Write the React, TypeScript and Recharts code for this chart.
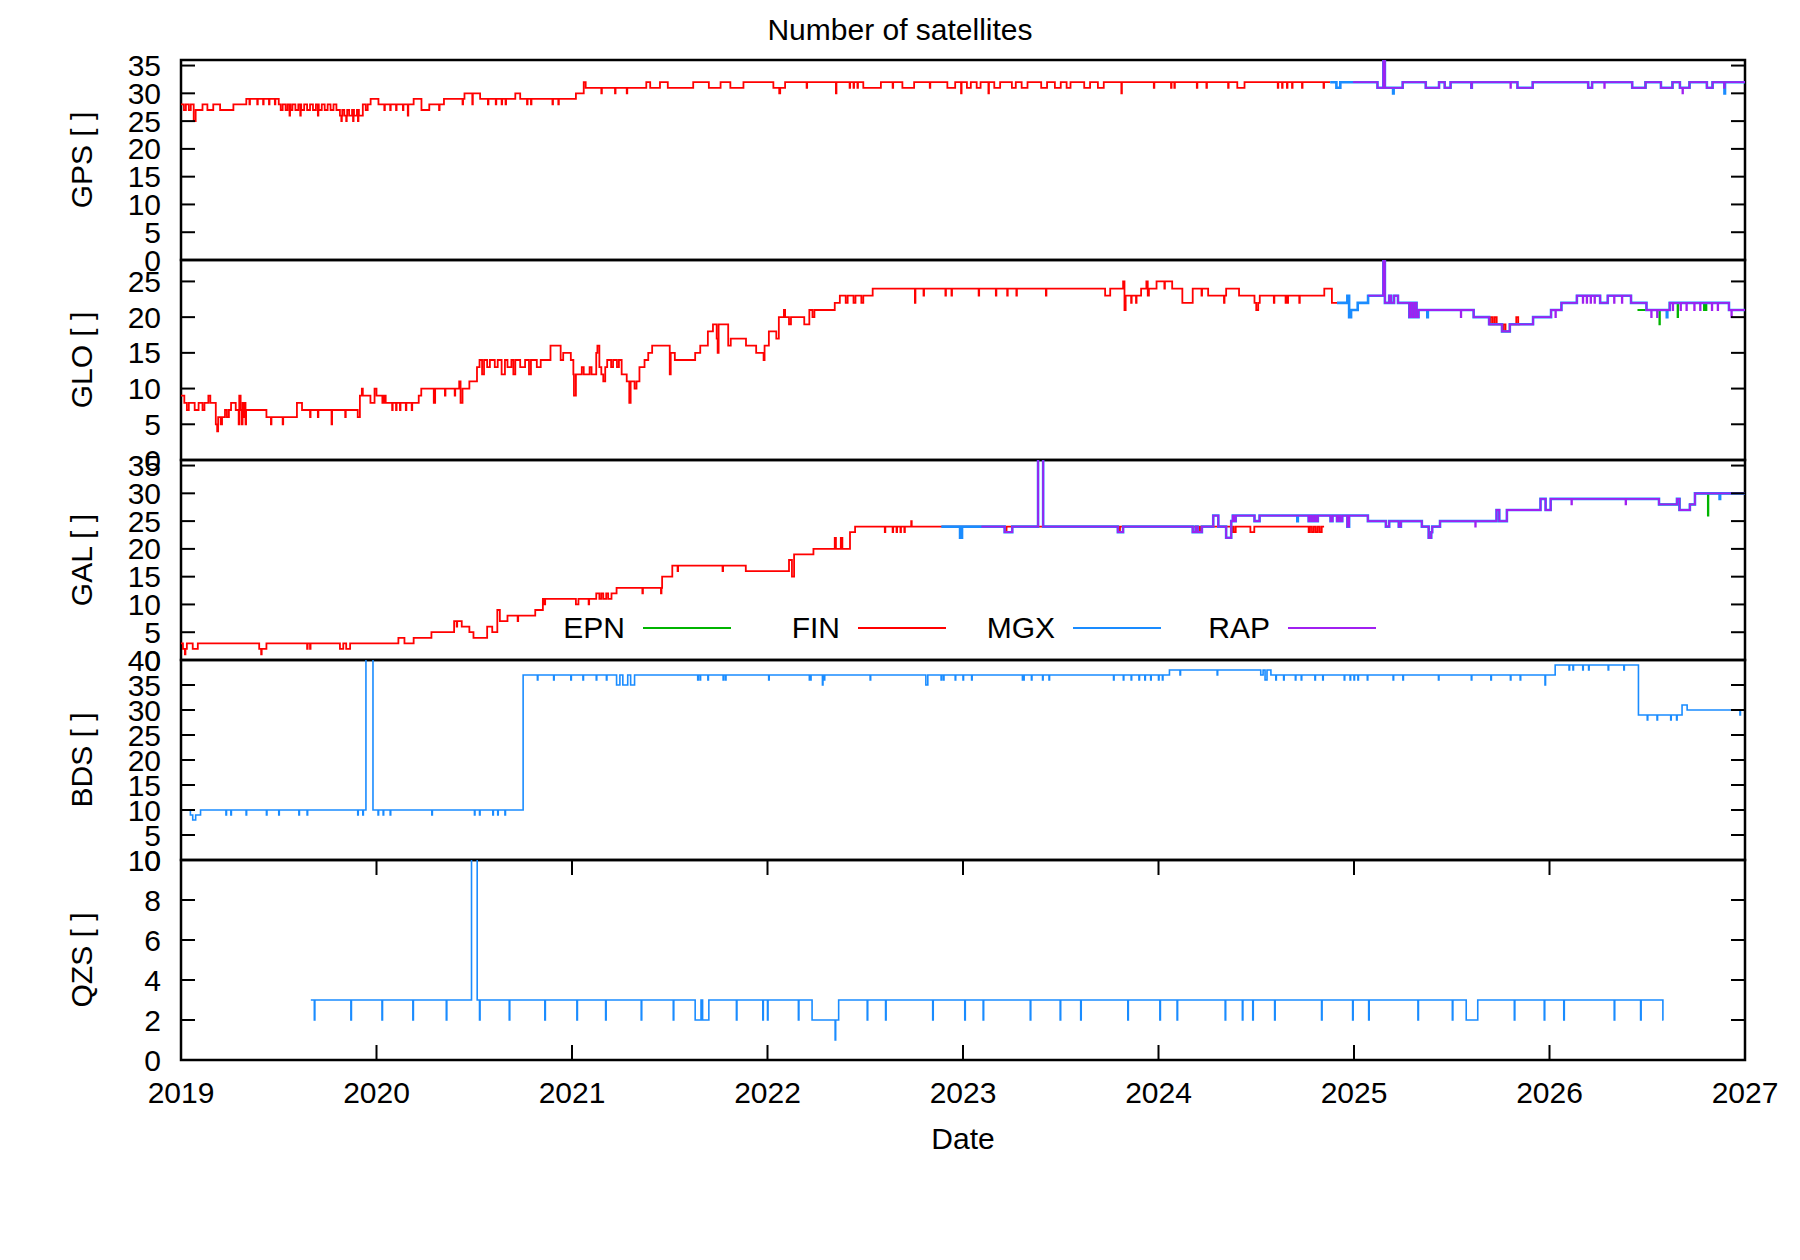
import { LineChart, Line, XAxis, YAxis, ReferenceArea, Legend } from "recharts";

type Pt = [number, number | null];

const PLOT_LEFT = 181;
const PLOT_RIGHT = 1745;
const PANEL_H = 200;
const PAD = 20;
const X_AXIS_H = 120;
const FONT = '"Liberation Sans", Arial, Helvetica, sans-serif';
const DAY = 1 / 365;

const COLORS: Record<string, string> = {
  EPN: "#00b400",
  FIN: "#ff0000",
  MGX: "#1a8cff",
  RAP: "#a020f0",
};

const yearTicks = [2019, 2020, 2021, 2022, 2023, 2024, 2025, 2026, 2027];

// ---------- GPS ----------
const gpsTicks = [0, 5, 10, 15, 20, 25, 30, 35];
const gpsFinLevels: Pt[] = [
  [2019.0, 28], [2019.015, 27], [2019.025, 28], [2019.04, 27], [2019.05, 28], [2019.065, 25], [2019.075, 27],
  [2019.11, 28], [2019.135, 27], [2019.165, 28], [2019.2, 27], [2019.268, 28], [2019.334, 29], [2019.5, 28],
  [2019.51, 27], [2019.52, 28], [2019.535, 27], [2019.545, 28], [2019.56, 27], [2019.57, 28], [2019.585, 27],
  [2019.6, 28], [2019.615, 27], [2019.63, 28], [2019.645, 27], [2019.66, 28], [2019.675, 27], [2019.69, 28],
  [2019.705, 27], [2019.72, 28], [2019.735, 27], [2019.75, 28], [2019.765, 27], [2019.78, 28], [2019.795, 27],
  [2019.813, 26], [2019.825, 27], [2019.835, 26], [2019.85, 27], [2019.86, 26], [2019.875, 27], [2019.885, 26],
  [2019.9, 27], [2019.91, 26], [2019.93, 28], [2019.945, 27], [2019.955, 28], [2019.97, 29], [2020.01, 28],
  [2020.19, 29], [2020.23, 27], [2020.27, 28], [2020.345, 29], [2020.45, 30], [2020.53, 29], [2020.71, 30],
  [2020.735, 29], [2021.02, 30], [2021.06, 32], [2021.07, 31], [2021.38, 32], [2021.4, 31], [2021.45, 32],
  [2021.49, 31], [2021.62, 32], [2021.7, 31], [2021.76, 32], [2021.81, 31], [2021.877, 32], [2022.03, 31],
  [2022.06, 30], [2022.065, 31], [2022.09, 32], [2022.49, 31], [2022.58, 32], [2022.69, 31], [2022.75, 32],
  [2022.92, 31], [2022.96, 32], [2023.02, 31], [2023.04, 32], [2023.07, 31], [2023.09, 32], [2023.16, 31],
  [2023.19, 32], [2023.25, 31], [2023.27, 32], [2023.3, 31], [2023.33, 32], [2023.4, 31], [2023.43, 32],
  [2023.47, 31], [2023.5, 32], [2023.53, 31], [2023.55, 32], [2023.62, 31], [2023.65, 32], [2023.69, 31],
  [2023.72, 32], [2024.403, 31], [2024.44, 32], [2024.878, 32],
];
const gpsFinDips: Pt[] = [
  [2019.35, 28], [2019.39, 28], [2019.42, 28], [2019.45, 28], [2019.48, 28], [2019.555, 26], [2019.61, 26],
  [2019.7, 26], [2019.82, 25], [2019.845, 25], [2019.88, 25], [2019.905, 25], [2020.04, 27], [2020.07, 27],
  [2020.1, 27], [2020.135, 27], [2020.16, 26], [2020.32, 27], [2020.44, 28], [2020.49, 28], [2020.57, 28],
  [2020.61, 28], [2020.64, 28], [2020.66, 28], [2020.77, 28], [2020.79, 28], [2020.9, 28], [2020.93, 28],
  [2021.15, 30], [2021.22, 30], [2021.28, 30], [2022.2, 31], [2022.35, 30], [2022.42, 31], [2022.44, 31],
  [2022.46, 31], [2022.64, 31], [2022.83, 31], [2022.99, 30], [2023.13, 30], [2023.81, 30], [2023.976, 31],
  [2024.064, 31], [2024.081, 31], [2024.196, 31], [2024.245, 31], [2024.356, 31], [2024.61, 31],
  [2024.632, 31], [2024.657, 31], [2024.683, 31], [2024.734, 31], [2024.844, 31],
];
const gpsRapLevels: Pt[] = [
  [2024.995, 32], [2025.12, 31], [2025.15, 40], [2025.158, 31], [2025.249, 32], [2025.367, 31],
  [2025.435, 32], [2025.464, 31], [2025.494, 32], [2025.836, 31], [2025.914, 32], [2026.198, 31],
  [2026.218, 32], [2026.423, 31], [2026.491, 32], [2026.57, 31], [2026.629, 32], [2026.667, 31],
  [2026.716, 32], [2026.805, 31], [2026.834, 32], [2027.0, 32],
];
const gpsRapDips: Pt[] = [[2025.6, 31], [2025.8, 31], [2026.28, 31], [2026.68, 30], [2026.893, 31]];
const gpsMgxStart: Pt[] = [[2024.878, 32], [2024.91, 31], [2024.93, 32]];
const gpsMgxDips: Pt[] = [[2025.2, 30], [2025.6, 31], [2026.895, 30]];
const gpsEpnLevels: Pt[] = [
  [2026.45, 31], [2026.491, 32], [2026.57, 31], [2026.629, 32], [2026.667, 31], [2026.716, 32],
  [2026.805, 31], [2026.834, 32], [2027.0, 32],
];

// ---------- GLO ----------
const gloTicks = [0, 5, 10, 15, 20, 25];
const gloFinLevels: Pt[] = [
  [2019.0, 9], [2019.017, 8], [2019.03, 7], [2019.04, 8], [2019.07, 7], [2019.09, 8], [2019.11, 7],
  [2019.12, 8], [2019.14, 9], [2019.15, 8], [2019.178, 5], [2019.185, 4], [2019.19, 6], [2019.203, 5],
  [2019.21, 6], [2019.225, 7], [2019.235, 6], [2019.245, 7], [2019.256, 8], [2019.28, 7], [2019.295, 5],
  [2019.298, 9], [2019.305, 7], [2019.31, 5], [2019.315, 8], [2019.32, 6], [2019.325, 8], [2019.33, 5],
  [2019.333, 7], [2019.437, 6], [2019.593, 8], [2019.619, 7], [2019.904, 6], [2019.915, 9], [2019.925, 10],
  [2019.93, 9], [2019.969, 8], [2019.99, 10], [2020.0, 9], [2020.03, 8], [2020.038, 9], [2020.047, 8],
  [2020.216, 9], [2020.229, 10], [2020.293, 8], [2020.3, 10], [2020.423, 11], [2020.43, 8], [2020.44, 10],
  [2020.475, 11], [2020.514, 13], [2020.527, 14], [2020.54, 12], [2020.55, 14], [2020.566, 13], [2020.58, 14],
  [2020.605, 13], [2020.62, 14], [2020.64, 12], [2020.657, 14], [2020.67, 13], [2020.69, 14], [2020.7, 12],
  [2020.71, 14], [2020.735, 13], [2020.76, 14], [2020.78, 12], [2020.79, 14], [2020.82, 13], [2020.84, 14],
  [2020.89, 16], [2020.942, 14], [2020.955, 15], [2020.994, 14], [2021.007, 12], [2021.01, 9], [2021.02, 12],
  [2021.05, 13], [2021.06, 12], [2021.09, 13], [2021.1, 12], [2021.124, 15], [2021.13, 16], [2021.14, 13],
  [2021.15, 12], [2021.16, 11], [2021.17, 13], [2021.18, 14], [2021.2, 13], [2021.21, 14], [2021.23, 13],
  [2021.24, 14], [2021.254, 12], [2021.28, 11], [2021.293, 8], [2021.3, 11], [2021.32, 10], [2021.33, 11],
  [2021.345, 13], [2021.371, 14], [2021.39, 15], [2021.41, 16], [2021.5, 12], [2021.505, 15], [2021.526, 14],
  [2021.63, 15], [2021.656, 16], [2021.695, 18], [2021.721, 19], [2021.74, 17], [2021.745, 15], [2021.75, 19],
  [2021.799, 16], [2021.812, 17], [2021.89, 16], [2021.942, 15], [2021.98, 14], [2021.985, 16], [2022.007, 18],
  [2022.045, 17], [2022.058, 20], [2022.084, 21], [2022.09, 20], [2022.11, 19], [2022.12, 20], [2022.188, 19],
  [2022.214, 21], [2022.23, 20], [2022.24, 21], [2022.344, 22], [2022.37, 23], [2022.4, 22], [2022.41, 23],
  [2022.44, 22], [2022.45, 23], [2022.48, 22], [2022.49, 23], [2022.538, 24], [2023.727, 23], [2023.753, 24],
  [2023.819, 25], [2023.826, 21], [2023.832, 23], [2023.911, 24], [2023.938, 25], [2023.945, 23], [2023.951, 24],
  [2023.99, 25], [2024.07, 24], [2024.122, 22], [2024.175, 24], [2024.254, 23], [2024.346, 24], [2024.412, 23],
  [2024.491, 22], [2024.5, 21], [2024.51, 22], [2024.518, 23], [2024.848, 24], [2024.887, 22], [2024.913, 22],
  [2024.914, null], [2025.691, 19], [2025.7, 20], [2025.71, 19], [2025.72, 20], [2025.73, 19], [2025.757, 18],
  [2025.765, 19], [2025.775, 18], [2025.797, 19], [2025.83, 20], [2025.84, 19], [2025.85, 19], [2025.851, null],
];
const gloFinDips: Pt[] = [
  [2019.46, 5], [2019.52, 5], [2019.66, 6], [2019.7, 6], [2019.77, 5], [2019.84, 6], [2020.08, 7], [2020.1, 7],
  [2020.12, 7], [2020.15, 7], [2020.18, 7], [2020.35, 9], [2020.4, 9], [2022.754, 22], [2022.798, 23],
  [2022.91, 23], [2022.941, 23], [2023.08, 23], [2023.168, 23], [2023.226, 23], [2023.273, 23], [2023.424, 23],
  [2023.86, 22], [2023.885, 22], [2024.03, 24], [2024.22, 23], [2024.335, 22], [2024.59, 22], [2024.65, 22],
  [2024.66, 22], [2024.72, 22],
];
const gloRapLevels: Pt[] = [
  [2025.072, 23], [2025.15, 40], [2025.158, 22], [2025.18, 23], [2025.19, 22], [2025.205, 23], [2025.225, 22],
  [2025.283, 20], [2025.29, 22], [2025.3, 20], [2025.31, 22], [2025.32, 20], [2025.33, 21], [2025.612, 20],
  [2025.691, 19], [2025.757, 18], [2025.797, 19], [2025.916, 20], [2026.008, 21], [2026.061, 22], [2026.14, 23],
  [2026.259, 22], [2026.298, 23], [2026.417, 22], [2026.496, 21], [2026.615, 22], [2026.918, 21], [2027.0, 21],
];
const gloRapDips: Pt[] = [
  [2025.546, 20], [2026.03, 20], [2026.17, 22], [2026.19, 22], [2026.21, 22], [2026.23, 22], [2026.33, 22],
  [2026.37, 22], [2026.52, 20], [2026.55, 20], [2026.63, 21], [2026.67, 21], [2026.7, 21], [2026.74, 21],
  [2026.77, 21], [2026.83, 21], [2026.86, 21], [2026.93, 20],
];
const gloMgxStart: Pt[] = [[2024.913, 22], [2024.966, 23], [2024.975, 20], [2024.985, 21], [2025.019, 22]];
const gloMgxDips: Pt[] = [[2025.375, 20], [2026.6, 20]];
const gloEpnLevels: Pt[] = [[2026.45, 21], [2026.615, 22], [2026.918, 21], [2027.0, 21]];
const gloEpnDips: Pt[] = [[2026.562, 19], [2026.655, 20], [2026.79, 21], [2026.8, 21]];

// ---------- GAL ----------
const galTicks = [0, 5, 10, 15, 20, 25, 30, 35];
const galFinLevels: Pt[] = [
  [2019.0, 3], [2019.01, 2], [2019.03, 3], [2019.06, 2], [2019.086, 3], [2019.4, 2], [2019.437, 3],
  [2019.813, 2], [2019.83, 3], [2019.845, 2], [2019.865, 3], [2020.112, 4], [2020.143, 3], [2020.19, 4],
  [2020.281, 5], [2020.397, 7], [2020.436, 6], [2020.475, 5], [2020.496, 4], [2020.566, 6], [2020.592, 5],
  [2020.618, 9], [2020.631, 7], [2020.67, 8], [2020.812, 9], [2020.851, 11], [2021.02, 10], [2021.033, 11],
  [2021.124, 12], [2021.14, 11], [2021.15, 12], [2021.16, 11], [2021.175, 12], [2021.185, 11], [2021.202, 12],
  [2021.228, 13], [2021.461, 15], [2021.513, 17], [2021.889, 16], [2022.11, 18], [2022.125, 15], [2022.136, 19],
  [2022.235, 20], [2022.344, 22], [2022.35, 20], [2022.375, 22], [2022.383, 20], [2022.422, 23], [2022.448, 24],
  [2024.372, 23], [2024.38, 24], [2024.385, 23], [2024.395, 24], [2024.47, 23], [2024.49, 24], [2024.768, 23],
  [2024.775, 24], [2024.785, 23], [2024.795, 24], [2024.805, 23], [2024.815, 24], [2024.825, 23], [2024.835, 24],
  [2024.847, 24],
];
const galFinDips: Pt[] = [
  [2019.02, 1], [2019.41, 1], [2019.645, 2], [2019.66, 2], [2020.41, 6], [2020.722, 7], [2020.86, 10],
  [2021.085, 10], [2021.36, 12], [2021.455, 12], [2021.54, 16], [2021.77, 16], [2022.6, 23], [2022.64, 23],
  [2022.66, 23], [2022.68, 23], [2022.7, 23], [2022.735, 25], [2023.22, 23], [2023.8, 23], [2024.19, 23],
  [2024.21, 23],
];
const galRapLevels: Pt[] = [
  [2023.094, 24], [2023.213, 23], [2023.252, 24], [2023.384, 40], [2023.41, 24], [2023.792, 23], [2023.819, 24],
  [2024.175, 23], [2024.19, 24], [2024.2, 23], [2024.222, 24], [2024.28, 26], [2024.306, 24], [2024.346, 22],
  [2024.372, 25], [2024.38, 26], [2024.385, 25], [2024.395, 26], [2024.491, 25], [2024.517, 26], [2024.768, 25],
  [2024.775, 26], [2024.785, 25], [2024.795, 26], [2024.805, 25], [2024.815, 26], [2024.88, 25], [2024.89, 26],
  [2024.913, 25], [2024.92, 26], [2024.93, 25], [2024.94, 26], [2024.966, 24], [2024.975, 26], [2025.071, 25],
  [2025.163, 24], [2025.18, 25], [2025.229, 24], [2025.24, 25], [2025.347, 24], [2025.382, 22], [2025.395, 23],
  [2025.4, 24], [2025.44, 25], [2025.729, 27], [2025.743, 25], [2025.782, 27], [2025.954, 29], [2025.98, 27],
  [2026.006, 29], [2026.56, 28], [2026.652, 29], [2026.665, 27], [2026.718, 28], [2026.744, 30], [2027.0, 30],
];
const galRapDips: Pt[] = [[2025.62, 24], [2026.112, 28], [2026.389, 28]];
const galMgxStart: Pt[] = [[2022.889, 24], [2022.985, 22], [2022.995, 24]];
const galMgxDips: Pt[] = [[2024.71, 25], [2026.87, 29]];
const galEpnLevels: Pt[] = [
  [2026.45, 29], [2026.56, 28], [2026.652, 29], [2026.665, 27], [2026.718, 28], [2026.744, 30], [2027.0, 30],
];
const galEpnDips: Pt[] = [[2026.81, 26]];

// ---------- BDS ----------
const bdsTicks = [0, 5, 10, 15, 20, 25, 30, 35, 40];
const bdsMgxLevels: Pt[] = [
  [2019.0, 10], [2019.048, 9], [2019.06, 8], [2019.075, 9], [2019.1, 10], [2019.946, 45], [2019.982, 10],
  [2020.75, 37], [2021.228, 35], [2021.245, 37], [2021.26, 35], [2021.285, 37], [2021.3, 35], [2021.32, 37],
  [2022.81, 35], [2022.82, 37], [2024.056, 38], [2024.523, 37], [2024.535, 38], [2024.545, 36], [2024.555, 38],
  [2024.575, 37], [2026.029, 39], [2026.455, 29], [2026.678, 31], [2026.704, 30], [2027.0, 30],
];
const bdsMgxDips: Pt[] = [
  [2019.23, 9], [2019.255, 9], [2019.333, 9], [2019.437, 9], [2019.5, 9], [2019.603, 9], [2019.645, 9],
  [2019.904, 9], [2019.93, 9], [2020.008, 9], [2020.034, 9], [2020.07, 9], [2020.283, 9], [2020.501, 9],
  [2020.527, 9], [2020.595, 9], [2020.62, 9], [2020.657, 9], [2020.823, 36], [2020.906, 36], [2020.994, 36],
  [2021.056, 36], [2021.124, 36], [2021.176, 36], [2021.643, 36], [2021.655, 36], [2021.695, 36], [2021.773, 36],
  [2021.785, 36], [2022.006, 36], [2022.214, 36], [2022.22, 36], [2022.281, 35], [2022.29, 36], [2022.525, 36],
  [2022.888, 36], [2022.9, 36], [2022.96, 36], [2023.0, 36], [2023.044, 36], [2023.304, 36], [2023.31, 36],
  [2023.35, 36], [2023.407, 36], [2023.44, 36], [2023.77, 36], [2023.82, 36], [2023.86, 36], [2023.9, 36],
  [2023.93, 36], [2023.96, 36], [2024.0, 36], [2024.02, 36], [2024.11, 37], [2024.3, 37], [2024.6, 36],
  [2024.64, 36], [2024.7, 36], [2024.73, 36], [2024.8, 36], [2024.84, 36], [2024.95, 36], [2024.98, 36],
  [2025.0, 36], [2025.02, 36], [2025.068, 36], [2025.2, 36], [2025.25, 36], [2025.432, 36], [2025.6, 36],
  [2025.7, 36], [2025.8, 36], [2025.85, 36], [2025.977, 35], [2026.1, 38], [2026.12, 38], [2026.17, 38],
  [2026.2, 38], [2026.3, 38], [2026.38, 38], [2026.5, 28], [2026.55, 28], [2026.62, 28], [2026.65, 28],
  [2026.974, 29],
];

// ---------- QZS ----------
const qzsTicks = [0, 2, 4, 6, 8, 10];
const qzsMgxLevels: Pt[] = [
  [2019.664, 3], [2020.486, 12], [2020.515, 3], [2021.63, 2], [2021.66, 3], [2021.668, 2], [2021.7, 3],
  [2022.228, 2], [2022.364, 3], [2025.574, 2], [2025.633, 3], [2026.58, 2], [2026.583, 2],
];
const qzsMgxDips: Pt[] = [
  [2019.682, 2], [2019.869, 2], [2020.028, 2], [2020.186, 2], [2020.357, 2], [2020.527, 2], [2020.679, 2],
  [2020.861, 2], [2021.025, 2], [2021.172, 2], [2021.354, 2], [2021.518, 2], [2021.841, 2], [2021.976, 2],
  [2022.0, 2], [2022.158, 2], [2022.346, 1], [2022.51, 2], [2022.604, 2], [2022.845, 2], [2023.009, 2],
  [2023.103, 2], [2023.344, 2], [2023.497, 2], [2023.602, 2], [2023.843, 2], [2024.007, 2], [2024.095, 2],
  [2024.341, 2], [2024.429, 2], [2024.482, 2], [2024.594, 2], [2024.834, 2], [2024.993, 2], [2025.075, 2],
  [2025.327, 2], [2025.503, 2], [2025.82, 2], [2025.973, 2], [2026.073, 2], [2026.331, 2], [2026.466, 2],
];

// step levels plus one-day excursions -> points for a stepAfter line
function buildSeries(levels: Pt[], dips: Pt[] = []) {
  const out: { t: number; v: number | null }[] = levels.map(([t, v]) => ({ t, v }));
  for (const [t, v] of dips) {
    let base: number | null = null;
    for (const [lt, lv] of levels) {
      if (lt <= t) base = lv;
      else break;
    }
    out.push({ t, v }, { t: t + DAY, v: base });
  }
  return out.sort((a, b) => a.t - b.t);
}

type SeriesDef = { name: string; data: { t: number; v: number | null }[]; width: number };

const YTick = (props: any) => {
  const { x, y, payload } = props;
  return (
    <g>
      <line x1={PLOT_LEFT} x2={PLOT_LEFT + 14} y1={y} y2={y} stroke="#000" strokeWidth={2} />
      <line x1={PLOT_RIGHT - 14} x2={PLOT_RIGHT} y1={y} y2={y} stroke="#000" strokeWidth={2} />
      <text x={x - 20} y={y} textAnchor="end" dominantBaseline="central" fontSize={30} fontFamily={FONT} fill="#000">
        {payload.value}
      </text>
    </g>
  );
};

const XTick = (props: any) => {
  const { x, y, payload } = props;
  return (
    <g>
      <line x1={x} x2={x} y1={y} y2={y - 15} stroke="#000" strokeWidth={2} />
      <line x1={x} x2={x} y1={y - PANEL_H} y2={y - PANEL_H + 15} stroke="#000" strokeWidth={2} />
      <text x={x} y={y + 32} textAnchor="middle" dominantBaseline="central" fontSize={30} fontFamily={FONT} fill="#000">
        {payload.value}
      </text>
    </g>
  );
};

const yTitle = (text: string) => () => {
  const cy = PAD + PANEL_H / 2;
  return (
    <text
      x={81}
      y={cy}
      transform={`rotate(-90 81 ${cy})`}
      textAnchor="middle"
      dominantBaseline="central"
      fontSize={30}
      fontFamily={FONT}
      fill="#000"
    >
      {text}
    </text>
  );
};

const dateLabel = () => (
  <text
    x={(PLOT_LEFT + PLOT_RIGHT) / 2}
    y={PAD + PANEL_H + 78}
    textAnchor="middle"
    dominantBaseline="central"
    fontSize={30}
    fontFamily={FONT}
    fill="#000"
  >
    Date
  </text>
);

const LegendRow = (props: any) => {
  const items = props.payload || [];
  return (
    <div style={{ position: "relative", width: 1800, height: 40, fontFamily: FONT, fontSize: 30 }}>
      {items.map((it: any, i: number) => {
        const start = 643 + 215 * i;
        return (
          <div key={it.value}>
            <span
              style={{
                position: "absolute",
                left: start - 218,
                width: 200,
                top: 0,
                lineHeight: "40px",
                textAlign: "right",
                color: "#000",
              }}
            >
              {it.value}
            </span>
            <span
              style={{
                position: "absolute",
                left: start,
                top: 19,
                width: 88,
                height: 2,
                background: COLORS[it.value],
              }}
            />
          </div>
        );
      })}
    </div>
  );
};

function Panel({
  title,
  top,
  yMax,
  ticks,
  series,
  showX = false,
  showLegend = false,
}: {
  title: string;
  top: number;
  yMax: number;
  ticks: number[];
  series: SeriesDef[];
  showX?: boolean;
  showLegend?: boolean;
}) {
  const height = PAD + PANEL_H + (showX ? X_AXIS_H : PAD);
  return (
    <div style={{ position: "absolute", left: 0, top: top - PAD }}>
      <LineChart
        width={1800}
        height={height}
        margin={{ top: PAD, right: 1800 - PLOT_RIGHT, bottom: showX ? 0 : PAD, left: 0 }}
      >
        <XAxis
          dataKey="t"
          type="number"
          domain={[2019, 2027]}
          ticks={yearTicks}
          interval={0}
          allowDataOverflow
          hide={!showX}
          height={showX ? X_AXIS_H : 0}
          axisLine={false}
          tickLine={false}
          tickSize={0}
          tickMargin={0}
          tick={<XTick />}
          label={showX ? dateLabel : undefined}
        />
        <YAxis
          type="number"
          domain={[0, yMax]}
          ticks={ticks}
          interval={0}
          allowDataOverflow
          width={PLOT_LEFT}
          axisLine={false}
          tickLine={false}
          tickSize={0}
          tickMargin={0}
          tick={<YTick />}
          label={yTitle(title)}
        />
        {series.map((s) => (
          <Line
            key={s.name}
            name={s.name}
            data={s.data}
            dataKey="v"
            type="stepAfter"
            stroke={COLORS[s.name]}
            strokeWidth={s.width}
            dot={false}
            activeDot={false}
            connectNulls={false}
            isAnimationActive={false}
          />
        ))}
        <ReferenceArea
          x1={2019}
          x2={2027}
          y1={0}
          y2={yMax}
          fill="none"
          fillOpacity={0}
          stroke="#000"
          strokeWidth={2.5}
          ifOverflow="visible"
        />
        {showLegend && (
          <Legend
            layout="horizontal"
            align="center"
            verticalAlign="middle"
            wrapperStyle={{ left: 0, top: 168, width: 1800, height: 40 }}
            content={<LegendRow />}
          />
        )}
      </LineChart>
    </div>
  );
}

export default function App() {
  const gpsSeries: SeriesDef[] = [
    { name: "EPN", data: buildSeries(gpsEpnLevels), width: 1.8 },
    { name: "FIN", data: buildSeries(gpsFinLevels, gpsFinDips), width: 1.8 },
    { name: "MGX", data: buildSeries([...gpsMgxStart, ...gpsRapLevels], gpsMgxDips), width: 2.6 },
    { name: "RAP", data: buildSeries(gpsRapLevels, gpsRapDips), width: 1.8 },
  ];
  const gloSeries: SeriesDef[] = [
    { name: "EPN", data: buildSeries(gloEpnLevels, gloEpnDips), width: 1.8 },
    { name: "FIN", data: buildSeries(gloFinLevels, gloFinDips), width: 1.8 },
    { name: "MGX", data: buildSeries([...gloMgxStart, ...gloRapLevels], gloMgxDips), width: 2.6 },
    { name: "RAP", data: buildSeries(gloRapLevels, gloRapDips), width: 1.8 },
  ];
  const galSeries: SeriesDef[] = [
    { name: "EPN", data: buildSeries(galEpnLevels, galEpnDips), width: 1.8 },
    { name: "FIN", data: buildSeries(galFinLevels, galFinDips), width: 1.8 },
    { name: "MGX", data: buildSeries([...galMgxStart, ...galRapLevels], galMgxDips), width: 2.6 },
    { name: "RAP", data: buildSeries(galRapLevels, galRapDips), width: 1.8 },
  ];
  const bdsSeries: SeriesDef[] = [{ name: "MGX", data: buildSeries(bdsMgxLevels, bdsMgxDips), width: 1.6 }];
  const qzsSeries: SeriesDef[] = [{ name: "MGX", data: buildSeries(qzsMgxLevels, qzsMgxDips), width: 1.6 }];

  return (
    <div
      style={{
        position: "absolute",
        left: 0,
        top: 0,
        width: 1800,
        height: 1260,
        background: "#fff",
        fontFamily: FONT,
        overflow: "hidden",
      }}
    >
      <div
        style={{
          position: "absolute",
          left: 0,
          width: 1800,
          top: 12,
          height: 36,
          lineHeight: "36px",
          textAlign: "center",
          fontSize: 30,
          color: "#000",
        }}
      >
        Number of satellites
      </div>
      <Panel title="GPS [ ]" top={60} yMax={36} ticks={gpsTicks} series={gpsSeries} />
      <Panel title="GLO [ ]" top={260} yMax={28} ticks={gloTicks} series={gloSeries} />
      <Panel title="GAL [ ]" top={460} yMax={36} ticks={galTicks} series={galSeries} showLegend />
      <Panel title="BDS [ ]" top={660} yMax={40} ticks={bdsTicks} series={bdsSeries} />
      <Panel title="QZS [ ]" top={860} yMax={10} ticks={qzsTicks} series={qzsSeries} showX />
    </div>
  );
}
